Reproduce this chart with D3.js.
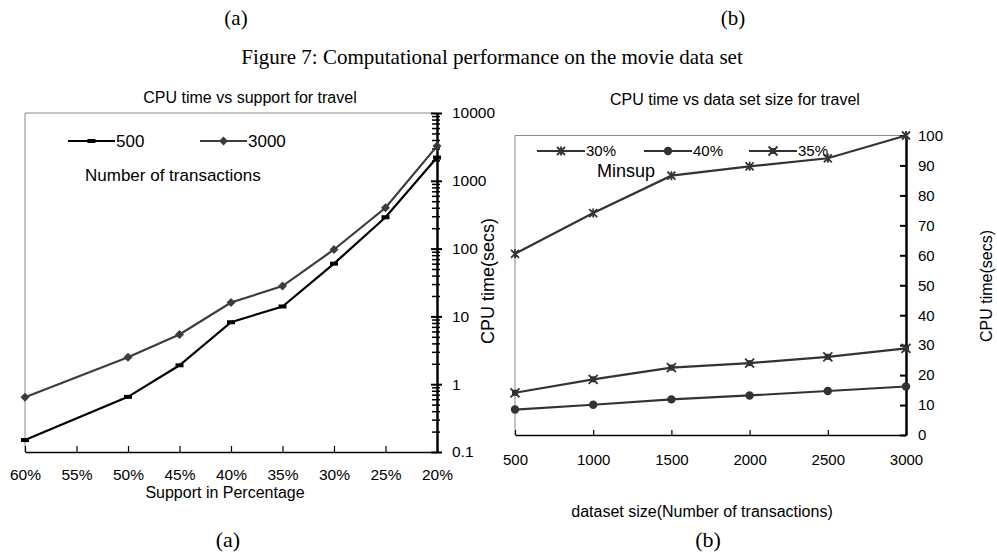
<!DOCTYPE html>
<html>
<head>
<meta charset="utf-8">
<script src="https://cdn.jsdelivr.net/npm/d3@7"></script>
<style>
  body { margin: 0; background: #fff; }
  svg text { font-family: "Liberation Sans", Arial, sans-serif; fill: #000; }
  svg text.serif { font-family: "Liberation Serif", "Times New Roman", serif; }
</style>
</head>
<body>
<svg id="fig" width="997" height="553"></svg>
<script>
//DATA

// chart (a): CPU time vs support (log scale), 55% has no point
var supports = ["60%", "55%", "50%", "45%", "40%", "35%", "30%", "25%", "20%"];
var cpu500  = [0.15, null, 0.65, 1.9, 8.2, 14, 60, 290, 2200];
var cpu3000 = [0.64, null, 2.5, 5.4, 16, 28, 97, 400, 3250];
var logTicks = [0.1, 1, 10, 100, 1000, 10000];
var logMinor = [0.2, 0.3, 0.4, 0.5, 0.6, 0.7, 0.8, 0.9,
                2, 3, 4, 5, 6, 7, 8, 9,
                20, 30, 40, 50, 60, 70, 80, 90,
                200, 300, 400, 500, 600, 700, 800, 900,
                2000, 3000, 4000, 5000, 6000, 7000, 8000, 9000];

// chart (b): CPU time vs data set size
var sizes = [500, 1000, 1500, 2000, 2500, 3000];
var sup30 = [60.5, 74.1, 86.6, 89.7, 92.4, 100];
var sup40 = [8.5, 10.1, 11.9, 13.2, 14.7, 16.2];
var sup35 = [14.1, 18.6, 22.5, 24.0, 26.1, 28.9];
var linTicks = [0, 10, 20, 30, 40, 50, 60, 70, 80, 90, 100];

var svg = d3.select("#fig");

//CAPTIONS

svg.append("text").attr("class", "serif").attr("x", 236).attr("y", 25)
    .attr("text-anchor", "middle").attr("font-size", 21).text("(a)");
svg.append("text").attr("class", "serif").attr("x", 733).attr("y", 25)
    .attr("text-anchor", "middle").attr("font-size", 21).text("(b)");
svg.append("text").attr("class", "serif").attr("x", 492).attr("y", 64)
    .attr("text-anchor", "middle").attr("font-size", 21)
    .text("Figure 7: Computational performance on the movie data set");
svg.append("text").attr("class", "serif").attr("x", 228).attr("y", 547)
    .attr("text-anchor", "middle").attr("font-size", 22).text("(a)");
svg.append("text").attr("class", "serif").attr("x", 708).attr("y", 547)
    .attr("text-anchor", "middle").attr("font-size", 22).text("(b)");

//CHART A

var xA = d3.scalePoint().domain(supports).range([25, 437]);
var yA = d3.scaleLog().domain([0.1, 10000]).range([452, 113]);

var gA = svg.append("g");

gA.append("text").attr("x", 250).attr("y", 103).attr("text-anchor", "middle")
    .attr("font-size", 16).text("CPU time vs support for travel");

// thin frame on top / left
gA.append("path")
    .attr("d", "M" + xA.range()[0] + "," + yA.range()[0] + "V" + yA.range()[1] + "H" + xA.range()[1])
    .attr("fill", "none").attr("stroke", "#888").attr("stroke-width", 1);

var axA = gA.append("g")
    .attr("transform", "translate(0," + yA.range()[0] + ")")
    .call(d3.axisBottom(xA).tickSize(-6).tickSizeOuter(0).tickPadding(17));
axA.select(".domain").attr("stroke", "#000").attr("stroke-width", 1.5);
axA.selectAll("line").attr("stroke-width", 1.2);
axA.selectAll("text").attr("font-size", 15.5).attr("font-family", null);

var minorA = gA.append("g")
    .attr("transform", "translate(" + xA.range()[1] + ",0)")
    .call(d3.axisRight(yA).tickValues(logMinor).tickFormat("").tickSize(3).tickSizeOuter(0));
minorA.selectAll("line").attr("x1", -5).attr("stroke-width", 1.5);
minorA.select(".domain").remove();

var ayA = gA.append("g")
    .attr("transform", "translate(" + xA.range()[1] + ",0)")
    .call(d3.axisRight(yA).tickValues(logTicks).tickFormat(function(d) { return String(d); })
        .tickSize(5).tickSizeOuter(0).tickPadding(10));
ayA.select(".domain").attr("stroke-width", 2.5);
ayA.selectAll("line").attr("x1", -6).attr("stroke-width", 2);
ayA.selectAll("text").attr("font-size", 15.5).attr("font-family", null);

gA.append("text").attr("x", 225).attr("y", 498).attr("text-anchor", "middle")
    .attr("font-size", 16).text("Support in Percentage");
gA.append("text").attr("transform", "translate(494,281) rotate(-90)")
    .attr("text-anchor", "middle").attr("font-size", 18).text("CPU time(secs)");

var lineA = d3.line()
    .x(function(d) { return xA(d.k); })
    .y(function(d) { return yA(d.v); });

// skip the empty 55% slot, line runs straight through it
function pairsA(vals) {
  return supports.map(function(k, i) { return {k: k, v: vals[i]}; })
    .filter(function(d) { return d.v != null; });
}

var seriesA = [
  {name: "500",  vals: cpu500,  color: "#000",    mark: "dash"},
  {name: "3000", vals: cpu3000, color: "#3c3c3c", mark: "diamond"}
];

function markA(sel, s) {
  if (s.mark == "diamond") {
    sel.append("path").attr("d", "M0,-4.5L4.5,0L0,4.5L-4.5,0Z")
      .attr("fill", s.color);
  } else {
    sel.append("rect").attr("x", -4).attr("y", -2).attr("width", 8).attr("height", 4)
      .attr("fill", s.color);
  }
}

seriesA.forEach(function(s) {
  var pts = pairsA(s.vals);
  gA.append("path").datum(pts).attr("d", lineA)
    .attr("fill", "none").attr("stroke", s.color).attr("stroke-width", 2.2);
  gA.selectAll(null).data(pts)
    .enter().append("g")
      .attr("transform", function(d) { return "translate(" + xA(d.k) + "," + yA(d.v) + ")"; })
      .each(function() { markA(d3.select(this), s); });
});

// legend a
var legA = gA.selectAll(".legA").data(seriesA).enter().append("g")
    .attr("transform", function(d, i) { return "translate(" + (68 + i * 132) + ",141)"; });
legA.append("line").attr("x1", 0).attr("x2", 47)
    .attr("stroke", function(d) { return d.color; }).attr("stroke-width", 2.2);
legA.each(function(d) {
  var m = d3.select(this).append("g").attr("transform", "translate(23.5,0)");
  markA(m, d);
});
legA.append("text").attr("x", 48).attr("dy", "0.35em").attr("font-size", 17)
    .text(function(d) { return d.name; });
gA.append("text").attr("x", 85).attr("y", 175).attr("dy", "0.35em").attr("font-size", 17)
    .text("Number of transactions");

//CHART B

var xB = d3.scaleLinear().domain([500, 3000]).range([515, 906]);
var yB = d3.scaleLinear().domain([0, 100]).range([435, 135.5]);

var gB = svg.append("g");

gB.append("text").attr("x", 735).attr("y", 105).attr("text-anchor", "middle")
    .attr("font-size", 16).text("CPU time vs data set size for travel");

gB.append("path")
    .attr("d", "M" + xB.range()[0] + "," + yB.range()[0] + "V" + yB.range()[1] + "H" + xB.range()[1])
    .attr("fill", "none").attr("stroke", "#888").attr("stroke-width", 1);

var axB = gB.append("g")
    .attr("transform", "translate(0," + yB.range()[0] + ")")
    .call(d3.axisBottom(xB).tickValues(sizes).tickFormat(d3.format("d"))
        .tickSize(-5).tickSizeOuter(0).tickPadding(19));
axB.select(".domain").attr("stroke-width", 1.5);
axB.selectAll("line").attr("stroke-width", 1.2);
axB.selectAll("text").attr("font-size", 15).attr("font-family", null);

var ayB = gB.append("g")
    .attr("transform", "translate(" + xB.range()[1] + ",0)")
    .call(d3.axisRight(yB).tickValues(linTicks).tickSize(-6).tickSizeOuter(0).tickPadding(12));
ayB.select(".domain").attr("stroke-width", 2.5);
ayB.selectAll("line").attr("stroke-width", 2);
ayB.selectAll("text").attr("font-size", 15).attr("font-family", null);

gB.append("text").attr("x", 702).attr("y", 517).attr("text-anchor", "middle")
    .attr("font-size", 16).text("dataset size(Number of transactions)");
gB.append("text").attr("transform", "translate(992,286) rotate(-90)")
    .attr("text-anchor", "middle").attr("font-size", 16).text("CPU time(secs)");

var lineB = d3.line()
    .x(function(d) { return xB(d.k); })
    .y(function(d) { return yB(d.v); });

var seriesB = [
  {name: "30%", vals: sup30, mark: "star"},
  {name: "40%", vals: sup40, mark: "circle"},
  {name: "35%", vals: sup35, mark: "box"}
];
var colB = "#333";

function markB(sel, s) {
  if (s.mark == "circle") {
    sel.append("circle").attr("r", 4.2).attr("fill", colB);
  } else if (s.mark == "star") {
    sel.append("path").attr("d", "M-4,-4L4,4M-4,4L4,-4M0,-4.5V4.5")
      .attr("stroke", colB).attr("stroke-width", 1.8);
  } else {
    sel.append("rect").attr("x", -3).attr("y", -3).attr("width", 6).attr("height", 6).attr("fill", colB);
    sel.append("path").attr("d", "M-4.5,-4.5L4.5,4.5M-4.5,4.5L4.5,-4.5")
      .attr("stroke", colB).attr("stroke-width", 1.8);
  }
}

seriesB.forEach(function(s) {
  var pts = sizes.map(function(k, i) { return {k: k, v: s.vals[i]}; });
  gB.append("path").datum(pts).attr("d", lineB)
    .attr("fill", "none").attr("stroke", colB).attr("stroke-width", 2.2);
  gB.selectAll(null).data(pts).enter().append("g")
      .attr("transform", function(d) { return "translate(" + xB(d.k) + "," + yB(d.v) + ")"; })
      .each(function() { markB(d3.select(this), s); });
});

// legend b
var legBx = [537, 644, 749];
var legB = gB.selectAll(".legB").data(seriesB).enter().append("g")
    .attr("transform", function(d, i) { return "translate(" + legBx[i] + ",151)"; });
legB.append("line").attr("x1", 0).attr("x2", 48)
    .attr("stroke", colB).attr("stroke-width", 2.2);
legB.each(function(d) {
  var m = d3.select(this).append("g").attr("transform", "translate(24,0)");
  markB(m, d);
});
legB.append("text").attr("x", 49).attr("dy", "0.35em").attr("font-size", 15)
    .text(function(d) { return d.name; });
gB.append("text").attr("x", 597).attr("y", 171).attr("dy", "0.35em").attr("font-size", 18)
    .text("Minsup");
</script>
</body>
</html>
